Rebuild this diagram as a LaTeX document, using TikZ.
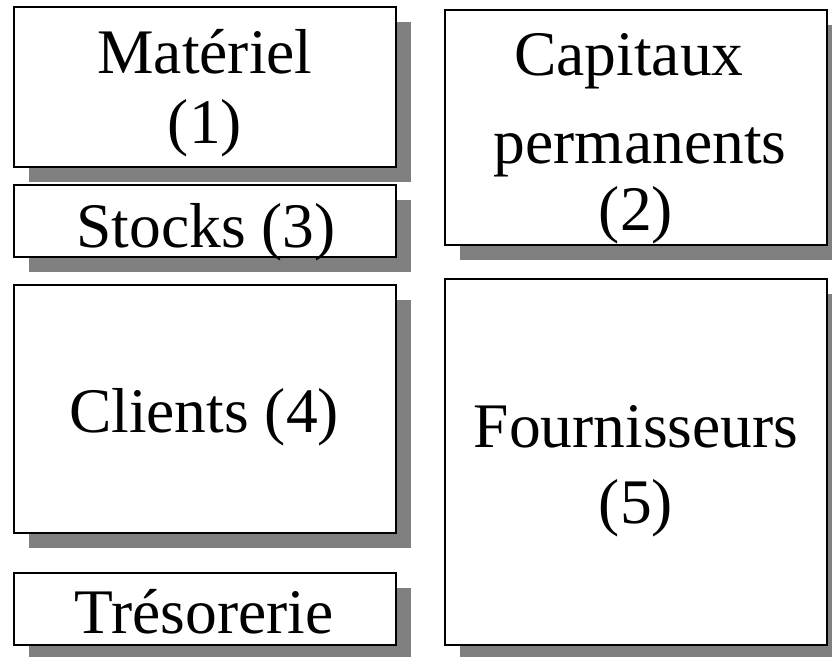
\documentclass[tikz,border=0pt]{standalone}
\usepackage{fontspec}
\setmainfont{Liberation Serif}
\usetikzlibrary{shadows}
\begin{document}
\begin{tikzpicture}[x=1pt,y=-1pt,
  box/.style={draw=black, line width=2.5pt, fill=white, rectangle, inner sep=0pt,
    drop shadow={shadow xshift=15pt, shadow yshift=-15pt, fill=black!50, opacity=1}},
  txt/.style={inner sep=0pt, anchor=base, font=\fontsize{63.5}{70}\selectfont}]
\useasboundingbox (0,0) rectangle (832,656);
% boxes
\node[box, minimum width=382pt, minimum height=160pt] (b1) at (205,87) {};
\node[box, minimum width=382pt, minimum height=72pt]  (b3) at (205,221) {};
\node[box, minimum width=382pt, minimum height=248pt] (b4) at (205,409) {};
\node[box, minimum width=382pt, minimum height=72pt]  (b6) at (205,609) {};
\node[box, minimum width=382pt, minimum height=235pt] (b2) at (636,127.5) {};
\node[box, minimum width=382pt, minimum height=366pt] (b5) at (636,462) {};
% texts
\node[txt] (t1a) at (205,73) {Matériel};
\node[txt] (t1b) at (205,143) {(1)};
\node[txt] (t3) at (206,247) {Stocks (3)};
\node[txt] (t2a) at (629,75) {Capitaux};
\node[txt] (t2b) at (640,163) {permanents};
\node[txt] (t2c) at (636,230) {(2)};
\node[txt] (t4) at (204,432) {Clients (4)};
\node[txt] (t6) at (204,633) {Trésorerie};
\node[txt] (t5a) at (636,447) {Fournisseurs};
\node[txt] (t5b) at (636,523) {(5)};
\end{tikzpicture}
\end{document}
